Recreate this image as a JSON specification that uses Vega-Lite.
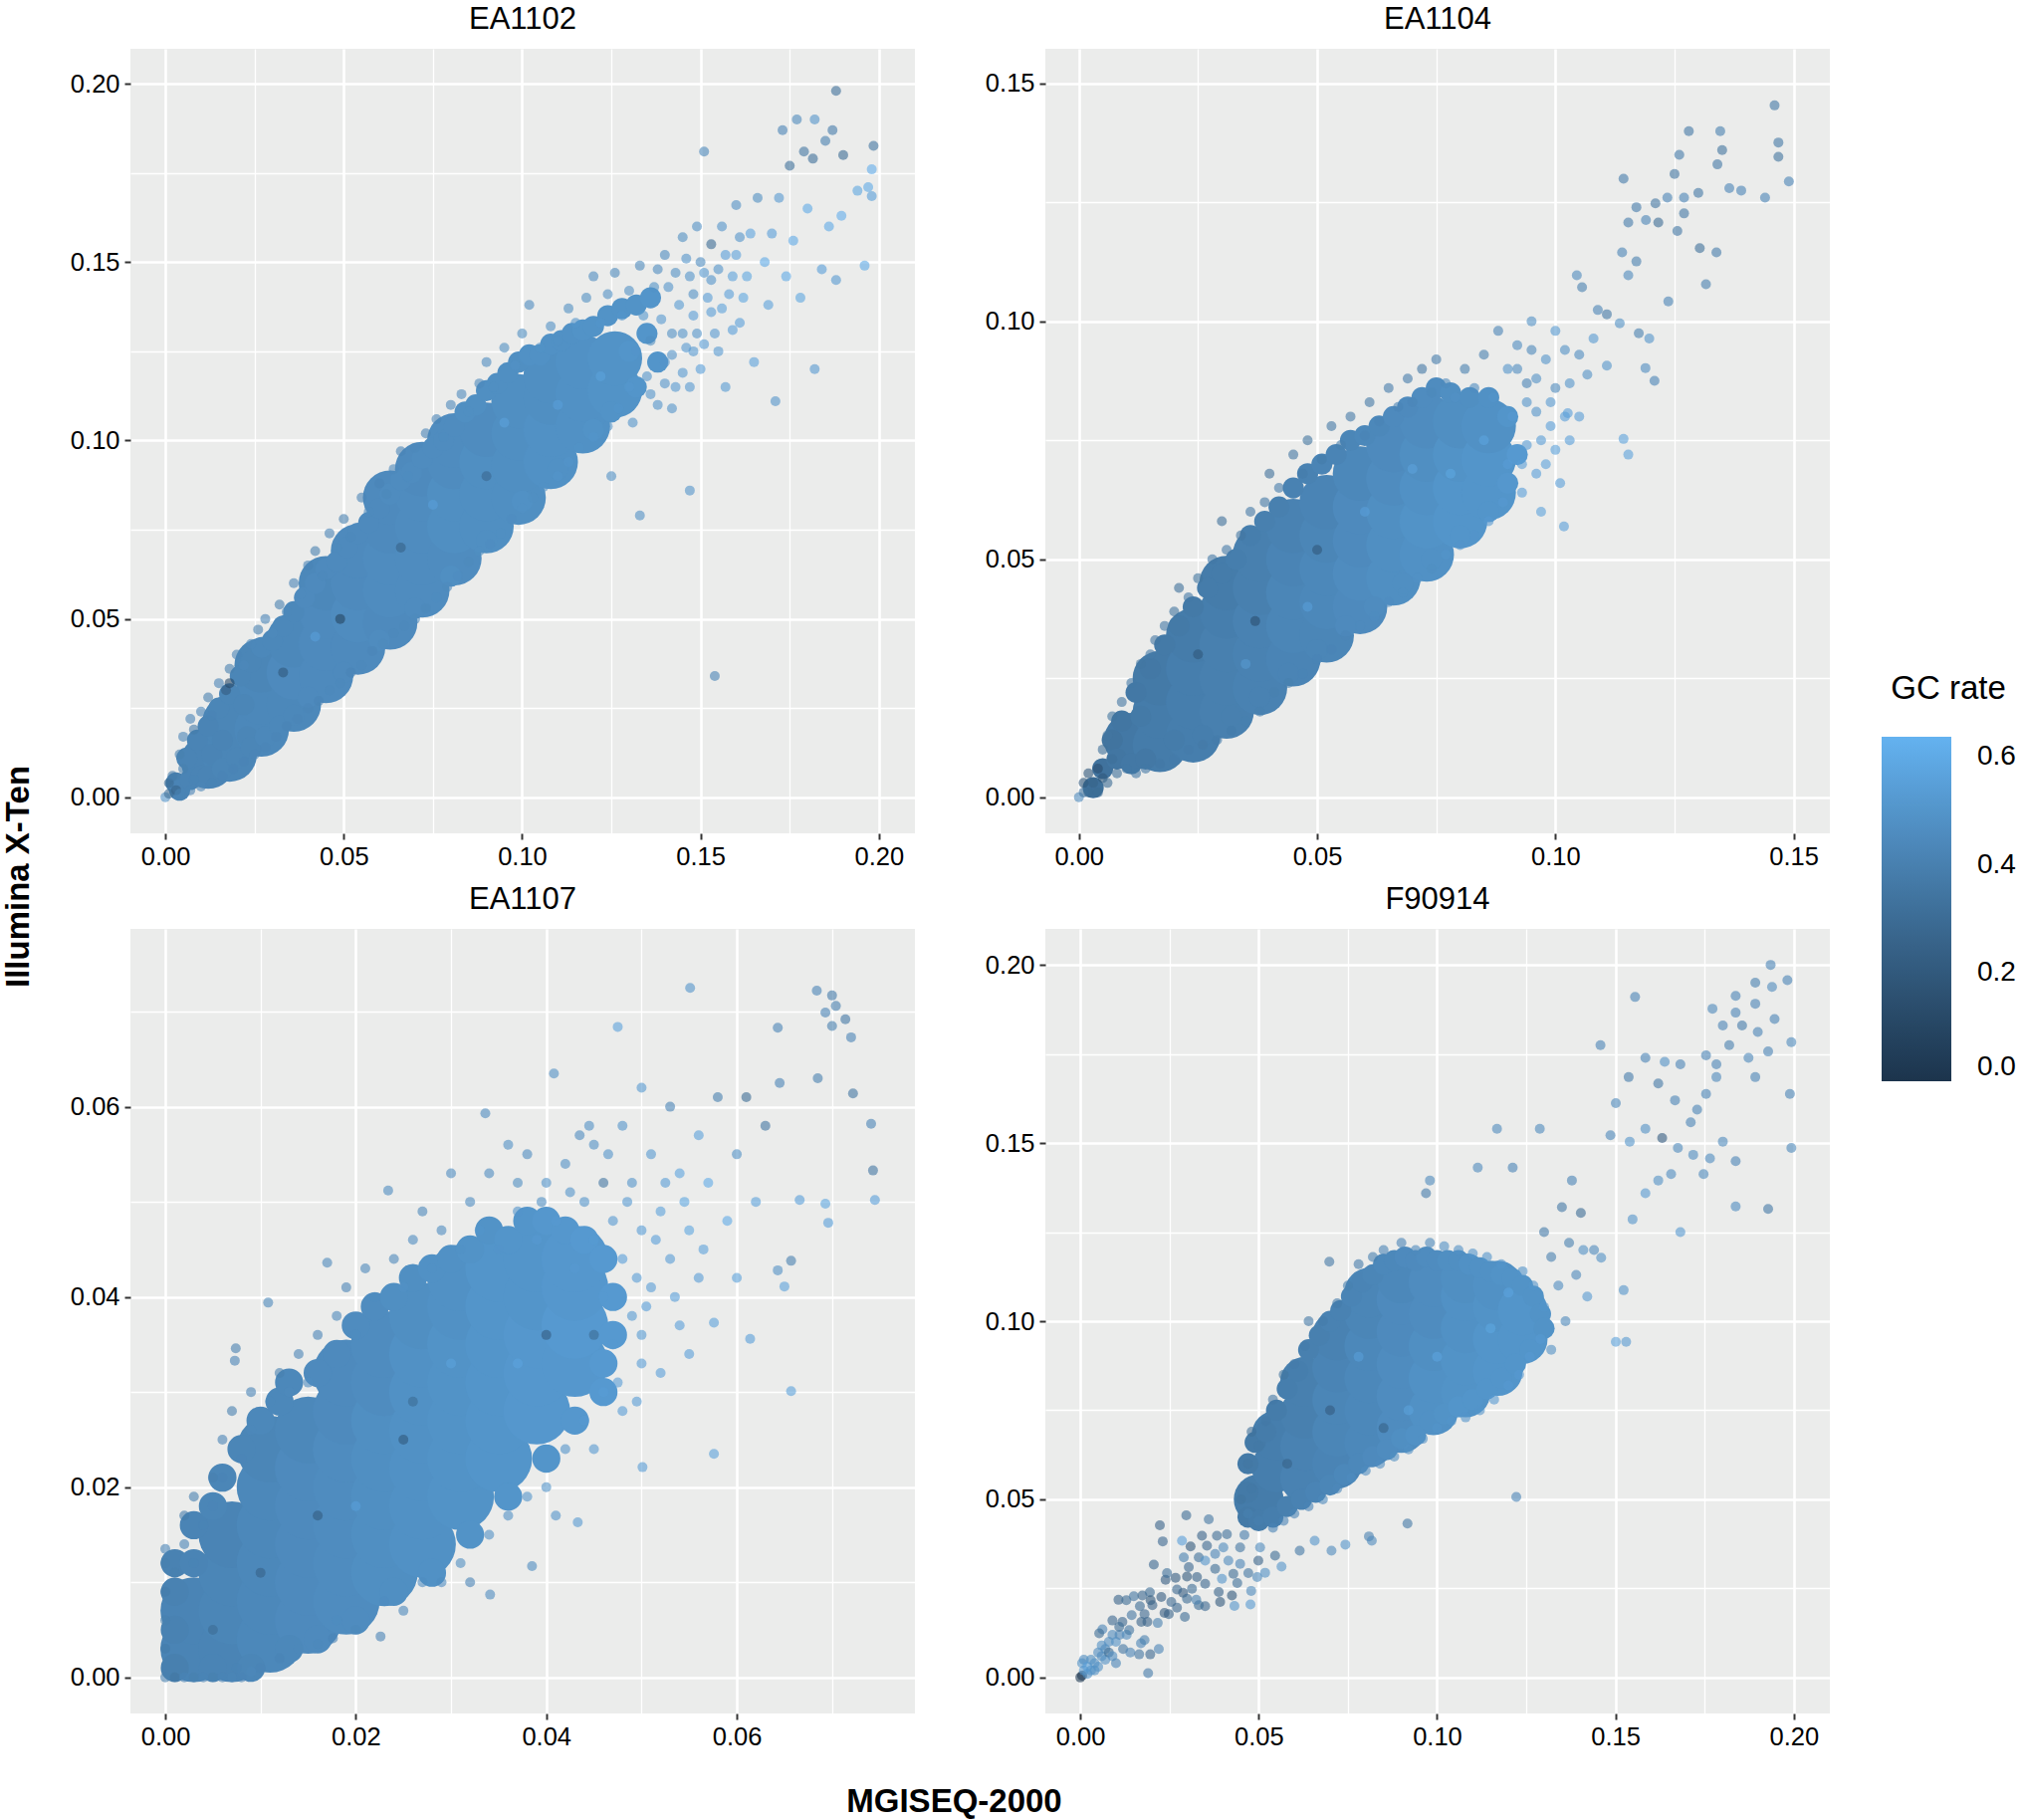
{
"$schema":"https://vega.github.io/schema/vega-lite/v6.json",
"description":"GC rate scatter, MGISEQ-2000 against Illumina X-Ten",
"background":"white",
"padding":{"left":2,"top":4,"right":4,"bottom":2},
"bounds":"flush",
"columns":2,
"spacing":{"row":96,"column":131},
"resolve":{"scale":{"color":"shared"},"legend":{"color":"shared"}},
"config":{
"font":"Liberation Sans",
"view":{"fill":"#EBECEB","stroke":null},
"axis":{"gridColor":"white","domain":false,"tickSize":6,"tickWidth":2,"labelFontSize":25.5,"labelColor":"black","labelPadding":5,"labelFlush":false,"labelOverlap":false,"titleFontSize":33,"titleFontWeight":"bold","titleColor":"black"},
"title":{"fontSize":31,"fontWeight":"normal","color":"black","offset":13}
},
"datasets":{
"core1":[{"x":0.012,"y":0.010,"g":0.42},{"x":0.018,"y":0.012,"g":0.43},{"x":0.018,"y":0.021,"g":0.43},{"x":0.027,"y":0.019,"g":0.44},{"x":0.027,"y":0.028,"g":0.44},{"x":0.027,"y":0.037,"g":0.43},{"x":0.036,"y":0.026,"g":0.44},{"x":0.036,"y":0.035,"g":0.45},{"x":0.036,"y":0.044,"g":0.44},{"x":0.045,"y":0.034,"g":0.45},{"x":0.045,"y":0.043,"g":0.45},{"x":0.045,"y":0.052,"g":0.45},{"x":0.045,"y":0.060,"g":0.44},{"x":0.054,"y":0.042,"g":0.45},{"x":0.054,"y":0.051,"g":0.46},{"x":0.054,"y":0.060,"g":0.45},{"x":0.054,"y":0.069,"g":0.45},{"x":0.063,"y":0.049,"g":0.45},{"x":0.063,"y":0.058,"g":0.46},{"x":0.063,"y":0.067,"g":0.46},{"x":0.063,"y":0.076,"g":0.45},{"x":0.063,"y":0.084,"g":0.45},{"x":0.072,"y":0.058,"g":0.46},{"x":0.072,"y":0.067,"g":0.46},{"x":0.072,"y":0.076,"g":0.46},{"x":0.072,"y":0.085,"g":0.46},{"x":0.072,"y":0.092,"g":0.45},{"x":0.081,"y":0.067,"g":0.46},{"x":0.081,"y":0.076,"g":0.47},{"x":0.081,"y":0.085,"g":0.47},{"x":0.081,"y":0.094,"g":0.46},{"x":0.081,"y":0.100,"g":0.46},{"x":0.090,"y":0.076,"g":0.47},{"x":0.090,"y":0.085,"g":0.47},{"x":0.090,"y":0.094,"g":0.47},{"x":0.090,"y":0.103,"g":0.46},{"x":0.099,"y":0.084,"g":0.47},{"x":0.099,"y":0.093,"g":0.47},{"x":0.099,"y":0.102,"g":0.47},{"x":0.099,"y":0.111,"g":0.47},{"x":0.108,"y":0.094,"g":0.48},{"x":0.108,"y":0.103,"g":0.48},{"x":0.108,"y":0.112,"g":0.47},{"x":0.108,"y":0.118,"g":0.47},{"x":0.117,"y":0.104,"g":0.48},{"x":0.117,"y":0.113,"g":0.48},{"x":0.117,"y":0.122,"g":0.48},{"x":0.126,"y":0.114,"g":0.49},{"x":0.126,"y":0.123,"g":0.49}],
"mid1":[{"x":0.003,"y":0.004,"g":0.4},{"x":0.004,"y":0.002,"g":0.42},{"x":0.006,"y":0.011,"g":0.42},{"x":0.007,"y":0.005,"g":0.42},{"x":0.009,"y":0.016,"g":0.42},{"x":0.01,"y":0.006,"g":0.42},{"x":0.012,"y":0.02,"g":0.42},{"x":0.013,"y":0.012,"g":0.42},{"x":0.015,"y":0.025,"g":0.43},{"x":0.016,"y":0.016,"g":0.42},{"x":0.012,"y":0.006,"g":0.42},{"x":0.016,"y":0.008,"g":0.43},{"x":0.018,"y":0.029,"g":0.43},{"x":0.02,"y":0.011,"g":0.43},{"x":0.021,"y":0.034,"g":0.43},{"x":0.022,"y":0.026,"g":0.43},{"x":0.023,"y":0.017,"g":0.43},{"x":0.024,"y":0.038,"g":0.43},{"x":0.024,"y":0.014,"g":0.43},{"x":0.027,"y":0.042,"g":0.44},{"x":0.028,"y":0.017,"g":0.44},{"x":0.03,"y":0.044,"g":0.44},{"x":0.032,"y":0.02,"g":0.44},{"x":0.033,"y":0.048,"g":0.44},{"x":0.036,"y":0.052,"g":0.44},{"x":0.036,"y":0.023,"g":0.44},{"x":0.039,"y":0.056,"g":0.45},{"x":0.04,"y":0.028,"g":0.45},{"x":0.042,"y":0.06,"g":0.45},{"x":0.045,"y":0.064,"g":0.45},{"x":0.048,"y":0.066,"g":0.45},{"x":0.05,"y":0.035,"g":0.45},{"x":0.051,"y":0.07,"g":0.45},{"x":0.054,"y":0.074,"g":0.45},{"x":0.057,"y":0.077,"g":0.45},{"x":0.06,"y":0.081,"g":0.45},{"x":0.06,"y":0.044,"g":0.46},{"x":0.063,"y":0.085,"g":0.46},{"x":0.066,"y":0.089,"g":0.46},{"x":0.069,"y":0.091,"g":0.46},{"x":0.07,"y":0.053,"g":0.46},{"x":0.072,"y":0.095,"g":0.46},{"x":0.075,"y":0.098,"g":0.46},{"x":0.078,"y":0.1,"g":0.46},{"x":0.08,"y":0.062,"g":0.47},{"x":0.081,"y":0.104,"g":0.46},{"x":0.084,"y":0.108,"g":0.47},{"x":0.087,"y":0.11,"g":0.47},{"x":0.09,"y":0.114,"g":0.47},{"x":0.09,"y":0.072,"g":0.47},{"x":0.093,"y":0.116,"g":0.47},{"x":0.096,"y":0.119,"g":0.47},{"x":0.099,"y":0.122,"g":0.47},{"x":0.1,"y":0.083,"g":0.48},{"x":0.102,"y":0.124,"g":0.48},{"x":0.105,"y":0.124,"g":0.48},{"x":0.108,"y":0.127,"g":0.48},{"x":0.11,"y":0.092,"g":0.48},{"x":0.111,"y":0.128,"g":0.48},{"x":0.114,"y":0.13,"g":0.48},{"x":0.117,"y":0.131,"g":0.49},{"x":0.12,"y":0.132,"g":0.49},{"x":0.12,"y":0.103,"g":0.49},{"x":0.124,"y":0.135,"g":0.49},{"x":0.125,"y":0.108,"g":0.49},{"x":0.128,"y":0.137,"g":0.49},{"x":0.13,"y":0.125,"g":0.5},{"x":0.132,"y":0.138,"g":0.49},{"x":0.132,"y":0.115,"g":0.5},{"x":0.135,"y":0.13,"g":0.5},{"x":0.136,"y":0.14,"g":0.5},{"x":0.138,"y":0.122,"g":0.5}],
"fine1":[{"x":0,"y":0,"g":0.5},{"x":0.001,"y":0.001,"g":0.3},{"x":0.001,"y":0.004,"g":0.3},{"x":0.002,"y":0.006,"g":0.38},{"x":0.003,"y":0.002,"g":0.25},{"x":0.004,"y":0.012,"g":0.4},{"x":0.004,"y":0.001,"g":0.42},{"x":0.005,"y":0.017,"g":0.42},{"x":0.005,"y":0.008,"g":0.4},{"x":0.007,"y":0.022,"g":0.42},{"x":0.007,"y":0.002,"g":0.42},{"x":0.008,"y":0.019,"g":0.38},{"x":0.008,"y":0.005,"g":0.42},{"x":0.01,"y":0.024,"g":0.42},{"x":0.01,"y":0.003,"g":0.43},{"x":0.012,"y":0.028,"g":0.4},{"x":0.013,"y":0.023,"g":0.42},{"x":0.013,"y":0.004,"g":0.42},{"x":0.015,"y":0.032,"g":0.42},{"x":0.016,"y":0.006,"g":0.42},{"x":0.017,"y":0.03,"g":0.22},{"x":0.018,"y":0.036,"g":0.4},{"x":0.019,"y":0.008,"g":0.42},{"x":0.02,"y":0.04,"g":0.42},{"x":0.022,"y":0.037,"g":0.44},{"x":0.022,"y":0.01,"g":0.42},{"x":0.024,"y":0.043,"g":0.44},{"x":0.025,"y":0.012,"g":0.43},{"x":0.026,"y":0.047,"g":0.4},{"x":0.028,"y":0.05,"g":0.42},{"x":0.028,"y":0.014,"g":0.43},{"x":0.03,"y":0.046,"g":0.45},{"x":0.031,"y":0.017,"g":0.43},{"x":0.032,"y":0.054,"g":0.4},{"x":0.034,"y":0.052,"g":0.44},{"x":0.034,"y":0.02,"g":0.42},{"x":0.036,"y":0.06,"g":0.42},{"x":0.037,"y":0.022,"g":0.43},{"x":0.038,"y":0.057,"g":0.45},{"x":0.04,"y":0.065,"g":0.42},{"x":0.04,"y":0.025,"g":0.43},{"x":0.042,"y":0.069,"g":0.4},{"x":0.043,"y":0.027,"g":0.42},{"x":0.044,"y":0.062,"g":0.44},{"x":0.046,"y":0.074,"g":0.42},{"x":0.046,"y":0.03,"g":0.44},{"x":0.048,"y":0.07,"g":0.45},{"x":0.049,"y":0.032,"g":0.44},{"x":0.05,"y":0.078,"g":0.4},{"x":0.052,"y":0.073,"g":0.44},{"x":0.052,"y":0.035,"g":0.42},{"x":0.055,"y":0.084,"g":0.42},{"x":0.055,"y":0.037,"g":0.44},{"x":0.057,"y":0.08,"g":0.45},{"x":0.058,"y":0.041,"g":0.43},{"x":0.06,"y":0.088,"g":0.42},{"x":0.061,"y":0.043,"g":0.45},{"x":0.062,"y":0.085,"g":0.44},{"x":0.064,"y":0.092,"g":0.44},{"x":0.064,"y":0.046,"g":0.44},{"x":0.066,"y":0.097,"g":0.42},{"x":0.067,"y":0.048,"g":0.44},{"x":0.068,"y":0.09,"g":0.46},{"x":0.07,"y":0.098,"g":0.44},{"x":0.07,"y":0.05,"g":0.45},{"x":0.073,"y":0.102,"g":0.42},{"x":0.073,"y":0.053,"g":0.44},{"x":0.076,"y":0.106,"g":0.42},{"x":0.076,"y":0.056,"g":0.46},{"x":0.078,"y":0.101,"g":0.46},{"x":0.079,"y":0.059,"g":0.45},{"x":0.08,"y":0.11,"g":0.44},{"x":0.082,"y":0.062,"g":0.46},{"x":0.083,"y":0.113,"g":0.45},{"x":0.085,"y":0.108,"g":0.47},{"x":0.085,"y":0.066,"g":0.45},{"x":0.088,"y":0.116,"g":0.44},{"x":0.088,"y":0.069,"g":0.47},{"x":0.09,"y":0.122,"g":0.46},{"x":0.091,"y":0.071,"g":0.46},{"x":0.092,"y":0.115,"g":0.47},{"x":0.094,"y":0.074,"g":0.47},{"x":0.095,"y":0.126,"g":0.47},{"x":0.097,"y":0.078,"g":0.46},{"x":0.098,"y":0.121,"g":0.48},{"x":0.1,"y":0.13,"g":0.47},{"x":0.1,"y":0.081,"g":0.48},{"x":0.102,"y":0.138,"g":0.46},{"x":0.103,"y":0.084,"g":0.47},{"x":0.105,"y":0.126,"g":0.49},{"x":0.106,"y":0.087,"g":0.48},{"x":0.108,"y":0.132,"g":0.48},{"x":0.11,"y":0.128,"g":0.48},{"x":0.11,"y":0.09,"g":0.5},{"x":0.113,"y":0.137,"g":0.47},{"x":0.113,"y":0.094,"g":0.5},{"x":0.115,"y":0.133,"g":0.5},{"x":0.116,"y":0.098,"g":0.49},{"x":0.118,"y":0.14,"g":0.47},{"x":0.12,"y":0.101,"g":0.5},{"x":0.12,"y":0.146,"g":0.46},{"x":0.122,"y":0.133,"g":0.5},{"x":0.124,"y":0.104,"g":0.48},{"x":0.124,"y":0.141,"g":0.48},{"x":0.126,"y":0.147,"g":0.45},{"x":0.127,"y":0.109,"g":0.5},{"x":0.128,"y":0.135,"g":0.5},{"x":0.13,"y":0.142,"g":0.48},{"x":0.13,"y":0.115,"g":0.51},{"x":0.131,"y":0.105,"g":0.5},{"x":0.132,"y":0.125,"g":0.5},{"x":0.133,"y":0.149,"g":0.45},{"x":0.134,"y":0.135,"g":0.51},{"x":0.135,"y":0.118,"g":0.5},{"x":0.136,"y":0.128,"g":0.47},{"x":0.137,"y":0.143,"g":0.49},{"x":0.138,"y":0.11,"g":0.5},{"x":0.139,"y":0.134,"g":0.52},{"x":0.14,"y":0.122,"g":0.5},{"x":0.14,"y":0.152,"g":0.46},{"x":0.141,"y":0.143,"g":0.5},{"x":0.142,"y":0.13,"g":0.48},{"x":0.143,"y":0.115,"g":0.52},{"x":0.144,"y":0.138,"g":0.53},{"x":0.145,"y":0.157,"g":0.47},{"x":0.146,"y":0.126,"g":0.52},{"x":0.147,"y":0.146,"g":0.5},{"x":0.148,"y":0.135,"g":0.54},{"x":0.149,"y":0.16,"g":0.48},{"x":0.15,"y":0.12,"g":0.55},{"x":0.15,"y":0.15,"g":0.46},{"x":0.151,"y":0.181,"g":0.44},{"x":0.152,"y":0.14,"g":0.54},{"x":0.153,"y":0.155,"g":0.3},{"x":0.154,"y":0.034,"g":0.42},{"x":0.154,"y":0.13,"g":0.52},{"x":0.155,"y":0.148,"g":0.5},{"x":0.156,"y":0.16,"g":0.5},{"x":0.157,"y":0.115,"g":0.53},{"x":0.158,"y":0.141,"g":0.55},{"x":0.16,"y":0.152,"g":0.56},{"x":0.16,"y":0.166,"g":0.48},{"x":0.161,"y":0.133,"g":0.55},{"x":0.163,"y":0.146,"g":0.58},{"x":0.164,"y":0.158,"g":0.57},{"x":0.165,"y":0.122,"g":0.56},{"x":0.166,"y":0.168,"g":0.47},{"x":0.168,"y":0.15,"g":0.6},{"x":0.169,"y":0.138,"g":0.56},{"x":0.17,"y":0.158,"g":0.55},{"x":0.171,"y":0.111,"g":0.5},{"x":0.172,"y":0.168,"g":0.52},{"x":0.173,"y":0.187,"g":0.42},{"x":0.174,"y":0.146,"g":0.6},{"x":0.175,"y":0.177,"g":0.32},{"x":0.176,"y":0.156,"g":0.6},{"x":0.177,"y":0.19,"g":0.45},{"x":0.178,"y":0.14,"g":0.58},{"x":0.179,"y":0.181,"g":0.35},{"x":0.18,"y":0.165,"g":0.6},{"x":0.1815,"y":0.179,"g":0.32},{"x":0.182,"y":0.19,"g":0.5},{"x":0.182,"y":0.12,"g":0.52},{"x":0.184,"y":0.148,"g":0.55},{"x":0.185,"y":0.184,"g":0.4},{"x":0.186,"y":0.16,"g":0.6},{"x":0.187,"y":0.187,"g":0.38},{"x":0.188,"y":0.198,"g":0.32},{"x":0.188,"y":0.145,"g":0.52},{"x":0.19,"y":0.18,"g":0.3},{"x":0.1895,"y":0.163,"g":0.62},{"x":0.194,"y":0.17,"g":0.58},{"x":0.196,"y":0.149,"g":0.6},{"x":0.197,"y":0.171,"g":0.6},{"x":0.198,"y":0.176,"g":0.62},{"x":0.198,"y":0.1685,"g":0.55},{"x":0.1985,"y":0.1826,"g":0.35},{"x":0.147,"y":0.086,"g":0.5},{"x":0.133,"y":0.079,"g":0.48},{"x":0.125,"y":0.09,"g":0.48},{"x":0.049,"y":0.05,"g":0.1},{"x":0.033,"y":0.035,"g":0.2},{"x":0.018,"y":0.032,"g":0.12},{"x":0.066,"y":0.07,"g":0.25},{"x":0.09,"y":0.09,"g":0.28},{"x":0.075,"y":0.082,"g":0.55},{"x":0.042,"y":0.045,"g":0.55},{"x":0.095,"y":0.105,"g":0.56},{"x":0.11,"y":0.11,"g":0.55},{"x":0.122,"y":0.118,"g":0.56},{"x":0.142,"y":0.124,"g":0.5},{"x":0.145,"y":0.13,"g":0.5},{"x":0.145,"y":0.119,"g":0.52},{"x":0.148,"y":0.125,"g":0.52},{"x":0.148,"y":0.141,"g":0.48},{"x":0.149,"y":0.13,"g":0.5},{"x":0.151,"y":0.147,"g":0.52},{"x":0.151,"y":0.127,"g":0.54},{"x":0.153,"y":0.136,"g":0.54},{"x":0.153,"y":0.145,"g":0.5},{"x":0.155,"y":0.125,"g":0.52},{"x":0.156,"y":0.137,"g":0.56},{"x":0.157,"y":0.152,"g":0.55},{"x":0.159,"y":0.131,"g":0.55},{"x":0.159,"y":0.146,"g":0.56},{"x":0.161,"y":0.157,"g":0.5},{"x":0.162,"y":0.14,"g":0.58},{"x":0.143,"y":0.147,"g":0.48},{"x":0.138,"y":0.148,"g":0.46},{"x":0.146,"y":0.151,"g":0.5},{"x":0.136,"y":0.113,"g":0.5},{"x":0.14,"y":0.116,"g":0.5},{"x":0.147,"y":0.115,"g":0.52},{"x":0.142,"y":0.109,"g":0.5}],
"core2":[{"x":0.011,"y":0.012,"g":0.36},{"x":0.017,"y":0.011,"g":0.38},{"x":0.017,"y":0.018,"g":0.38},{"x":0.017,"y":0.025,"g":0.37},{"x":0.024,"y":0.013,"g":0.39},{"x":0.024,"y":0.02,"g":0.39},{"x":0.024,"y":0.027,"g":0.39},{"x":0.024,"y":0.034,"g":0.38},{"x":0.031,"y":0.018,"g":0.4},{"x":0.031,"y":0.025,"g":0.4},{"x":0.031,"y":0.032,"g":0.4},{"x":0.031,"y":0.039,"g":0.39},{"x":0.031,"y":0.045,"g":0.38},{"x":0.038,"y":0.023,"g":0.41},{"x":0.038,"y":0.03,"g":0.41},{"x":0.038,"y":0.037,"g":0.41},{"x":0.038,"y":0.044,"g":0.4},{"x":0.038,"y":0.051,"g":0.4},{"x":0.045,"y":0.029,"g":0.42},{"x":0.045,"y":0.036,"g":0.43},{"x":0.045,"y":0.043,"g":0.43},{"x":0.045,"y":0.05,"g":0.42},{"x":0.045,"y":0.057,"g":0.41},{"x":0.052,"y":0.034,"g":0.43},{"x":0.052,"y":0.041,"g":0.44},{"x":0.052,"y":0.048,"g":0.44},{"x":0.052,"y":0.055,"g":0.43},{"x":0.052,"y":0.062,"g":0.42},{"x":0.059,"y":0.04,"g":0.45},{"x":0.059,"y":0.047,"g":0.46},{"x":0.059,"y":0.054,"g":0.45},{"x":0.059,"y":0.061,"g":0.45},{"x":0.059,"y":0.068,"g":0.44},{"x":0.066,"y":0.046,"g":0.47},{"x":0.066,"y":0.053,"g":0.47},{"x":0.066,"y":0.06,"g":0.47},{"x":0.066,"y":0.067,"g":0.46},{"x":0.066,"y":0.074,"g":0.45},{"x":0.073,"y":0.051,"g":0.48},{"x":0.073,"y":0.058,"g":0.49},{"x":0.073,"y":0.065,"g":0.48},{"x":0.073,"y":0.072,"g":0.47},{"x":0.073,"y":0.079,"g":0.46},{"x":0.08,"y":0.058,"g":0.5},{"x":0.08,"y":0.065,"g":0.5},{"x":0.08,"y":0.072,"g":0.49},{"x":0.08,"y":0.079,"g":0.47},{"x":0.086,"y":0.064,"g":0.5},{"x":0.086,"y":0.071,"g":0.5},{"x":0.086,"y":0.078,"g":0.48}],
"mid2":[{"x":0.003,"y":0.002,"g":0.32},{"x":0.005,"y":0.006,"g":0.33},{"x":0.007,"y":0.012,"g":0.34},{"x":0.008,"y":0.008,"g":0.35},{"x":0.009,"y":0.016,"g":0.35},{"x":0.011,"y":0.007,"g":0.36},{"x":0.012,"y":0.022,"g":0.36},{"x":0.013,"y":0.017,"g":0.37},{"x":0.014,"y":0.008,"g":0.36},{"x":0.015,"y":0.027,"g":0.36},{"x":0.018,"y":0.032,"g":0.37},{"x":0.02,"y":0.012,"g":0.38},{"x":0.021,"y":0.036,"g":0.37},{"x":0.024,"y":0.04,"g":0.37},{"x":0.026,"y":0.013,"g":0.39},{"x":0.027,"y":0.044,"g":0.38},{"x":0.03,"y":0.047,"g":0.38},{"x":0.032,"y":0.017,"g":0.4},{"x":0.033,"y":0.05,"g":0.39},{"x":0.036,"y":0.055,"g":0.39},{"x":0.038,"y":0.021,"g":0.41},{"x":0.039,"y":0.058,"g":0.4},{"x":0.042,"y":0.061,"g":0.4},{"x":0.044,"y":0.026,"g":0.42},{"x":0.045,"y":0.065,"g":0.41},{"x":0.048,"y":0.068,"g":0.41},{"x":0.05,"y":0.031,"g":0.43},{"x":0.051,"y":0.07,"g":0.42},{"x":0.054,"y":0.072,"g":0.42},{"x":0.056,"y":0.036,"g":0.45},{"x":0.057,"y":0.075,"g":0.43},{"x":0.06,"y":0.076,"g":0.44},{"x":0.062,"y":0.04,"g":0.46},{"x":0.063,"y":0.078,"g":0.44},{"x":0.066,"y":0.08,"g":0.45},{"x":0.068,"y":0.045,"g":0.47},{"x":0.069,"y":0.082,"g":0.45},{"x":0.072,"y":0.084,"g":0.46},{"x":0.074,"y":0.05,"g":0.48},{"x":0.075,"y":0.086,"g":0.46},{"x":0.078,"y":0.085,"g":0.47},{"x":0.08,"y":0.055,"g":0.5},{"x":0.082,"y":0.084,"g":0.47},{"x":0.086,"y":0.06,"g":0.5},{"x":0.086,"y":0.084,"g":0.48},{"x":0.09,"y":0.066,"g":0.51},{"x":0.09,"y":0.08,"g":0.5},{"x":0.092,"y":0.072,"g":0.52}],
"fine2":[{"x":0,"y":0,"g":0.45},{"x":0.001,"y":0.001,"g":0.35},{"x":0.001,"y":0.003,"g":0.2},{"x":0.002,"y":0.005,"g":0.2},{"x":0.002,"y":0.001,"g":0.3},{"x":0.003,"y":0.003,"g":0.25},{"x":0.004,"y":0.006,"g":0.15},{"x":0.004,"y":0.001,"g":0.3},{"x":0.005,"y":0.004,"g":0.2},{"x":0.005,"y":0.01,"g":0.32},{"x":0.006,"y":0.003,"g":0.3},{"x":0.006,"y":0.013,"g":0.35},{"x":0.007,"y":0.008,"g":0.32},{"x":0.007,"y":0.017,"g":0.34},{"x":0.008,"y":0.005,"g":0.32},{"x":0.009,"y":0.02,"g":0.35},{"x":0.01,"y":0.006,"g":0.36},{"x":0.011,"y":0.024,"g":0.36},{"x":0.012,"y":0.005,"g":0.36},{"x":0.013,"y":0.028,"g":0.35},{"x":0.014,"y":0.006,"g":0.36},{"x":0.015,"y":0.03,"g":0.37},{"x":0.016,"y":0.033,"g":0.35},{"x":0.017,"y":0.007,"g":0.36},{"x":0.018,"y":0.036,"g":0.36},{"x":0.02,"y":0.008,"g":0.38},{"x":0.02,"y":0.039,"g":0.34},{"x":0.021,"y":0.044,"g":0.32},{"x":0.023,"y":0.01,"g":0.38},{"x":0.023,"y":0.042,"g":0.36},{"x":0.025,"y":0.046,"g":0.34},{"x":0.026,"y":0.011,"g":0.37},{"x":0.028,"y":0.05,"g":0.36},{"x":0.029,"y":0.012,"g":0.38},{"x":0.03,"y":0.058,"g":0.32},{"x":0.031,"y":0.052,"g":0.37},{"x":0.032,"y":0.014,"g":0.38},{"x":0.034,"y":0.055,"g":0.35},{"x":0.035,"y":0.016,"g":0.4},{"x":0.036,"y":0.06,"g":0.36},{"x":0.038,"y":0.018,"g":0.4},{"x":0.039,"y":0.062,"g":0.36},{"x":0.04,"y":0.068,"g":0.32},{"x":0.041,"y":0.022,"g":0.4},{"x":0.042,"y":0.065,"g":0.38},{"x":0.044,"y":0.024,"g":0.4},{"x":0.045,"y":0.072,"g":0.35},{"x":0.047,"y":0.068,"g":0.38},{"x":0.047,"y":0.026,"g":0.42},{"x":0.048,"y":0.075,"g":0.34},{"x":0.05,"y":0.029,"g":0.42},{"x":0.051,"y":0.071,"g":0.38},{"x":0.053,"y":0.078,"g":0.36},{"x":0.053,"y":0.031,"g":0.42},{"x":0.055,"y":0.074,"g":0.4},{"x":0.056,"y":0.034,"g":0.43},{"x":0.057,"y":0.08,"g":0.37},{"x":0.059,"y":0.036,"g":0.45},{"x":0.06,"y":0.076,"g":0.42},{"x":0.061,"y":0.083,"g":0.36},{"x":0.062,"y":0.038,"g":0.46},{"x":0.063,"y":0.079,"g":0.42},{"x":0.065,"y":0.041,"g":0.46},{"x":0.065,"y":0.086,"g":0.38},{"x":0.067,"y":0.082,"g":0.42},{"x":0.068,"y":0.043,"g":0.47},{"x":0.069,"y":0.088,"g":0.38},{"x":0.07,"y":0.083,"g":0.43},{"x":0.071,"y":0.046,"g":0.48},{"x":0.072,"y":0.09,"g":0.36},{"x":0.074,"y":0.085,"g":0.44},{"x":0.074,"y":0.048,"g":0.47},{"x":0.075,"y":0.092,"g":0.38},{"x":0.077,"y":0.087,"g":0.45},{"x":0.077,"y":0.051,"g":0.5},{"x":0.079,"y":0.084,"g":0.48},{"x":0.08,"y":0.053,"g":0.5},{"x":0.081,"y":0.09,"g":0.4},{"x":0.083,"y":0.086,"g":0.46},{"x":0.083,"y":0.055,"g":0.5},{"x":0.085,"y":0.093,"g":0.4},{"x":0.086,"y":0.058,"g":0.52},{"x":0.087,"y":0.084,"g":0.5},{"x":0.088,"y":0.098,"g":0.42},{"x":0.089,"y":0.062,"g":0.52},{"x":0.09,"y":0.09,"g":0.5},{"x":0.09,"y":0.07,"g":0.54},{"x":0.091,"y":0.08,"g":0.52},{"x":0.092,"y":0.095,"g":0.46},{"x":0.093,"y":0.064,"g":0.55},{"x":0.094,"y":0.087,"g":0.42},{"x":0.094,"y":0.074,"g":0.54},{"x":0.095,"y":0.1,"g":0.48},{"x":0.096,"y":0.081,"g":0.5},{"x":0.097,"y":0.06,"g":0.56},{"x":0.098,"y":0.092,"g":0.5},{"x":0.098,"y":0.07,"g":0.56},{"x":0.099,"y":0.078,"g":0.55},{"x":0.1,"y":0.086,"g":0.45},{"x":0.1,"y":0.098,"g":0.52},{"x":0.101,"y":0.066,"g":0.55},{"x":0.102,"y":0.08,"g":0.55},{"x":0.1018,"y":0.0569,"g":0.55},{"x":0.1026,"y":0.0807,"g":0.55},{"x":0.1045,"y":0.1097,"g":0.45},{"x":0.1056,"y":0.1072,"g":0.4},{"x":0.1067,"y":0.0888,"g":0.48},{"x":0.108,"y":0.0964,"g":0.52},{"x":0.1089,"y":0.1024,"g":0.42},{"x":0.1108,"y":0.1015,"g":0.36},{"x":0.1108,"y":0.0907,"g":0.5},{"x":0.1135,"y":0.0996,"g":0.48},{"x":0.114,"y":0.1145,"g":0.42},{"x":0.1143,"y":0.130,"g":0.38},{"x":0.1143,"y":0.0753,"g":0.56},{"x":0.1153,"y":0.1208,"g":0.38},{"x":0.1153,"y":0.1097,"g":0.45},{"x":0.1153,"y":0.072,"g":0.56},{"x":0.117,"y":0.124,"g":0.38},{"x":0.117,"y":0.1126,"g":0.4},{"x":0.1175,"y":0.0975,"g":0.4},{"x":0.119,"y":0.1213,"g":0.42},{"x":0.1189,"y":0.0902,"g":0.46},{"x":0.1197,"y":0.0964,"g":0.5},{"x":0.1208,"y":0.0875,"g":0.42},{"x":0.121,"y":0.1248,"g":0.35},{"x":0.1216,"y":0.1208,"g":0.3},{"x":0.1235,"y":0.126,"g":0.42},{"x":0.1237,"y":0.1042,"g":0.42},{"x":0.125,"y":0.131,"g":0.35},{"x":0.1256,"y":0.119,"g":0.36},{"x":0.126,"y":0.135,"g":0.38},{"x":0.127,"y":0.126,"g":0.42},{"x":0.127,"y":0.1227,"g":0.36},{"x":0.128,"y":0.14,"g":0.36},{"x":0.13,"y":0.127,"g":0.36},{"x":0.1303,"y":0.1154,"g":0.32},{"x":0.1316,"y":0.1078,"g":0.4},{"x":0.134,"y":0.133,"g":0.36},{"x":0.1338,"y":0.1145,"g":0.38},{"x":0.1346,"y":0.14,"g":0.4},{"x":0.135,"y":0.136,"g":0.34},{"x":0.1365,"y":0.128,"g":0.42},{"x":0.139,"y":0.1275,"g":0.42},{"x":0.144,"y":0.126,"g":0.42},{"x":0.146,"y":0.1454,"g":0.36},{"x":0.1468,"y":0.1376,"g":0.36},{"x":0.1468,"y":0.1346,"g":0.34},{"x":0.149,"y":0.1294,"g":0.42},{"x":0.037,"y":0.037,"g":0.15},{"x":0.025,"y":0.03,"g":0.2},{"x":0.05,"y":0.052,"g":0.2},{"x":0.07,"y":0.069,"g":0.56},{"x":0.06,"y":0.06,"g":0.55},{"x":0.078,"y":0.068,"g":0.58},{"x":0.085,"y":0.075,"g":0.57},{"x":0.048,"y":0.04,"g":0.55},{"x":0.035,"y":0.028,"g":0.52},{"x":0.094,"y":0.083,"g":0.5},{"x":0.096,"y":0.088,"g":0.48},{"x":0.097,"y":0.075,"g":0.54},{"x":0.096,"y":0.068,"g":0.55},{"x":0.099,"y":0.083,"g":0.52},{"x":0.092,"y":0.09,"g":0.46},{"x":0.095,"y":0.094,"g":0.44},{"x":0.1,"y":0.073,"g":0.56},{"x":0.103,"y":0.075,"g":0.55},{"x":0.103,"y":0.087,"g":0.5},{"x":0.105,"y":0.08,"g":0.54},{"x":0.105,"y":0.093,"g":0.46},{"x":0.093,"y":0.07,"g":0.54},{"x":0.102,"y":0.094,"g":0.48}],
"core3":[{"x":0.003,"y":0.003,"g":0.42},{"x":0.003,"y":0.007,"g":0.42},{"x":0.007,"y":0.003,"g":0.42},{"x":0.007,"y":0.007,"g":0.43},{"x":0.007,"y":0.011,"g":0.43},{"x":0.007,"y":0.015,"g":0.42},{"x":0.011,"y":0.004,"g":0.44},{"x":0.011,"y":0.008,"g":0.44},{"x":0.011,"y":0.012,"g":0.44},{"x":0.011,"y":0.016,"g":0.44},{"x":0.011,"y":0.02,"g":0.44},{"x":0.011,"y":0.024,"g":0.43},{"x":0.015,"y":0.006,"g":0.45},{"x":0.015,"y":0.01,"g":0.45},{"x":0.015,"y":0.014,"g":0.45},{"x":0.015,"y":0.018,"g":0.45},{"x":0.015,"y":0.022,"g":0.45},{"x":0.015,"y":0.026,"g":0.44},{"x":0.019,"y":0.008,"g":0.46},{"x":0.019,"y":0.012,"g":0.46},{"x":0.019,"y":0.016,"g":0.46},{"x":0.019,"y":0.02,"g":0.46},{"x":0.019,"y":0.024,"g":0.46},{"x":0.019,"y":0.028,"g":0.45},{"x":0.019,"y":0.032,"g":0.45},{"x":0.023,"y":0.011,"g":0.47},{"x":0.023,"y":0.015,"g":0.47},{"x":0.023,"y":0.019,"g":0.47},{"x":0.023,"y":0.023,"g":0.47},{"x":0.023,"y":0.027,"g":0.47},{"x":0.023,"y":0.031,"g":0.46},{"x":0.023,"y":0.035,"g":0.46},{"x":0.027,"y":0.014,"g":0.48},{"x":0.027,"y":0.018,"g":0.48},{"x":0.027,"y":0.022,"g":0.48},{"x":0.027,"y":0.026,"g":0.48},{"x":0.027,"y":0.03,"g":0.48},{"x":0.027,"y":0.034,"g":0.48},{"x":0.027,"y":0.038,"g":0.47},{"x":0.031,"y":0.019,"g":0.49},{"x":0.031,"y":0.023,"g":0.49},{"x":0.031,"y":0.027,"g":0.49},{"x":0.031,"y":0.031,"g":0.49},{"x":0.031,"y":0.035,"g":0.49},{"x":0.031,"y":0.039,"g":0.48},{"x":0.031,"y":0.042,"g":0.48},{"x":0.035,"y":0.023,"g":0.5},{"x":0.035,"y":0.027,"g":0.5},{"x":0.035,"y":0.031,"g":0.5},{"x":0.035,"y":0.035,"g":0.5},{"x":0.035,"y":0.039,"g":0.5},{"x":0.035,"y":0.043,"g":0.5},{"x":0.039,"y":0.028,"g":0.51},{"x":0.039,"y":0.032,"g":0.51},{"x":0.039,"y":0.036,"g":0.51},{"x":0.039,"y":0.04,"g":0.5},{"x":0.039,"y":0.044,"g":0.5},{"x":0.043,"y":0.033,"g":0.51},{"x":0.043,"y":0.037,"g":0.52},{"x":0.043,"y":0.041,"g":0.51},{"x":0.043,"y":0.044,"g":0.51}],
"mid3":[{"x":0.001,"y":0.001,"g":0.4},{"x":0.001,"y":0.005,"g":0.41},{"x":0.001,"y":0.009,"g":0.41},{"x":0.001,"y":0.012,"g":0.41},{"x":0.003,"y":0.012,"g":0.42},{"x":0.003,"y":0.016,"g":0.42},{"x":0.005,"y":0.001,"g":0.42},{"x":0.005,"y":0.018,"g":0.43},{"x":0.006,"y":0.021,"g":0.43},{"x":0.008,"y":0.024,"g":0.43},{"x":0.009,"y":0.001,"g":0.43},{"x":0.01,"y":0.027,"g":0.44},{"x":0.012,"y":0.029,"g":0.44},{"x":0.013,"y":0.031,"g":0.44},{"x":0.013,"y":0.003,"g":0.44},{"x":0.016,"y":0.032,"g":0.45},{"x":0.016,"y":0.004,"g":0.45},{"x":0.018,"y":0.034,"g":0.45},{"x":0.02,"y":0.037,"g":0.46},{"x":0.02,"y":0.006,"g":0.46},{"x":0.022,"y":0.039,"g":0.46},{"x":0.024,"y":0.04,"g":0.47},{"x":0.024,"y":0.009,"g":0.47},{"x":0.026,"y":0.042,"g":0.47},{"x":0.028,"y":0.043,"g":0.48},{"x":0.028,"y":0.011,"g":0.48},{"x":0.03,"y":0.044,"g":0.48},{"x":0.032,"y":0.045,"g":0.49},{"x":0.032,"y":0.015,"g":0.49},{"x":0.034,"y":0.047,"g":0.49},{"x":0.036,"y":0.046,"g":0.5},{"x":0.036,"y":0.019,"g":0.5},{"x":0.038,"y":0.048,"g":0.5},{"x":0.04,"y":0.048,"g":0.51},{"x":0.04,"y":0.023,"g":0.5},{"x":0.042,"y":0.047,"g":0.51},{"x":0.043,"y":0.027,"g":0.51},{"x":0.044,"y":0.046,"g":0.52},{"x":0.046,"y":0.044,"g":0.52},{"x":0.046,"y":0.03,"g":0.52},{"x":0.046,"y":0.033,"g":0.52},{"x":0.047,"y":0.04,"g":0.52},{"x":0.047,"y":0.036,"g":0.52}],
"fine3":[{"x":0,"y":0,"g":0.4},{"x":0,"y":0.003,"g":0.38},{"x":0,"y":0.006,"g":0.4},{"x":0,"y":0.009,"g":0.38},{"x":0,"y":0.012,"g":0.4},{"x":0,"y":0.0135,"g":0.42},{"x":0.001,"y":0,"g":0.35},{"x":0.002,"y":0,"g":0.42},{"x":0.003,"y":0,"g":0.4},{"x":0.004,"y":0,"g":0.42},{"x":0.005,"y":0,"g":0.4},{"x":0.006,"y":0,"g":0.42},{"x":0.007,"y":0,"g":0.43},{"x":0.008,"y":0,"g":0.42},{"x":0.009,"y":0.0006,"g":0.44},{"x":0.001,"y":0.011,"g":0.4},{"x":0.002,"y":0.014,"g":0.42},{"x":0.002,"y":0.017,"g":0.38},{"x":0.003,"y":0.012,"g":0.42},{"x":0.003,"y":0.019,"g":0.4},{"x":0.004,"y":0.016,"g":0.42},{"x":0.005,"y":0.021,"g":0.4},{"x":0.005,"y":0.018,"g":0.43},{"x":0.006,"y":0.025,"g":0.42},{"x":0.006,"y":0.021,"g":0.42},{"x":0.007,"y":0.028,"g":0.4},{"x":0.0073,"y":0.0333,"g":0.42},{"x":0.0074,"y":0.0346,"g":0.4},{"x":0.008,"y":0.023,"g":0.43},{"x":0.009,"y":0.026,"g":0.44},{"x":0.009,"y":0.03,"g":0.42},{"x":0.0108,"y":0.0394,"g":0.44},{"x":0.011,"y":0.029,"g":0.44},{"x":0.012,"y":0.032,"g":0.4},{"x":0.013,"y":0.03,"g":0.45},{"x":0.014,"y":0.034,"g":0.42},{"x":0.015,"y":0.031,"g":0.46},{"x":0.016,"y":0.036,"g":0.42},{"x":0.017,"y":0.0436,"g":0.44},{"x":0.018,"y":0.038,"g":0.44},{"x":0.019,"y":0.041,"g":0.42},{"x":0.02,"y":0.036,"g":0.46},{"x":0.021,"y":0.043,"g":0.44},{"x":0.022,"y":0.04,"g":0.46},{"x":0.0234,"y":0.0512,"g":0.46},{"x":0.024,"y":0.044,"g":0.44},{"x":0.025,"y":0.041,"g":0.48},{"x":0.026,"y":0.046,"g":0.46},{"x":0.027,"y":0.049,"g":0.44},{"x":0.028,"y":0.043,"g":0.48},{"x":0.029,"y":0.047,"g":0.46},{"x":0.03,"y":0.053,"g":0.46},{"x":0.031,"y":0.045,"g":0.48},{"x":0.032,"y":0.05,"g":0.46},{"x":0.033,"y":0.047,"g":0.5},{"x":0.0336,"y":0.0593,"g":0.46},{"x":0.034,"y":0.053,"g":0.46},{"x":0.035,"y":0.045,"g":0.5},{"x":0.036,"y":0.056,"g":0.48},{"x":0.037,"y":0.049,"g":0.5},{"x":0.038,"y":0.055,"g":0.46},{"x":0.039,"y":0.046,"g":0.52},{"x":0.04,"y":0.052,"g":0.5},{"x":0.0408,"y":0.0635,"g":0.48},{"x":0.041,"y":0.048,"g":0.52},{"x":0.042,"y":0.054,"g":0.48},{"x":0.043,"y":0.043,"g":0.52},{"x":0.044,"y":0.05,"g":0.5},{"x":0.045,"y":0.046,"g":0.53},{"x":0.045,"y":0.056,"g":0.48},{"x":0.046,"y":0.04,"g":0.52},{"x":0.046,"y":0.052,"g":0.35},{"x":0.0475,"y":0.0684,"g":0.56},{"x":0.047,"y":0.048,"g":0.52},{"x":0.047,"y":0.035,"g":0.52},{"x":0.048,"y":0.044,"g":0.55},{"x":0.048,"y":0.058,"g":0.5},{"x":0.049,"y":0.052,"g":0.5},{"x":0.049,"y":0.038,"g":0.53},{"x":0.05,"y":0.047,"g":0.54},{"x":0.05,"y":0.062,"g":0.52},{"x":0.0501,"y":0.0221,"g":0.54},{"x":0.051,"y":0.041,"g":0.54},{"x":0.051,"y":0.055,"g":0.52},{"x":0.052,"y":0.032,"g":0.55},{"x":0.052,"y":0.049,"g":0.56},{"x":0.053,"y":0.044,"g":0.54},{"x":0.053,"y":0.06,"g":0.42},{"x":0.054,"y":0.053,"g":0.57},{"x":0.054,"y":0.037,"g":0.55},{"x":0.055,"y":0.047,"g":0.58},{"x":0.0551,"y":0.0725,"g":0.5},{"x":0.056,"y":0.057,"g":0.56},{"x":0.056,"y":0.042,"g":0.54},{"x":0.057,"y":0.052,"g":0.6},{"x":0.0576,"y":0.0235,"g":0.56},{"x":0.0576,"y":0.0373,"g":0.56},{"x":0.058,"y":0.061,"g":0.4},{"x":0.059,"y":0.048,"g":0.6},{"x":0.06,"y":0.055,"g":0.48},{"x":0.06,"y":0.042,"g":0.56},{"x":0.061,"y":0.061,"g":0.3},{"x":0.0614,"y":0.0356,"g":0.55},{"x":0.062,"y":0.05,"g":0.56},{"x":0.063,"y":0.058,"g":0.35},{"x":0.0643,"y":0.0683,"g":0.42},{"x":0.0643,"y":0.0428,"g":0.48},{"x":0.065,"y":0.0411,"g":0.56},{"x":0.0645,"y":0.0625,"g":0.42},{"x":0.0657,"y":0.0438,"g":0.4},{"x":0.0657,"y":0.0301,"g":0.56},{"x":0.0666,"y":0.0502,"g":0.55},{"x":0.0684,"y":0.0722,"g":0.42},{"x":0.0693,"y":0.0699,"g":0.42},{"x":0.0693,"y":0.0498,"g":0.58},{"x":0.0696,"y":0.0478,"g":0.55},{"x":0.07,"y":0.0717,"g":0.38},{"x":0.07,"y":0.0685,"g":0.4},{"x":0.0685,"y":0.063,"g":0.4},{"x":0.0704,"y":0.0706,"g":0.4},{"x":0.0714,"y":0.0692,"g":0.36},{"x":0.072,"y":0.0673,"g":0.42},{"x":0.0722,"y":0.0614,"g":0.35},{"x":0.0741,"y":0.0582,"g":0.42},{"x":0.0743,"y":0.0533,"g":0.35},{"x":0.0745,"y":0.0502,"g":0.55},{"x":0.0075,"y":0.001,"g":0.42},{"x":0.01,"y":0.001,"g":0.42},{"x":0.012,"y":0.002,"g":0.42},{"x":0.014,"y":0.003,"g":0.44},{"x":0.016,"y":0.0035,"g":0.44},{"x":0.0176,"y":0.0041,"g":0.42},{"x":0.018,"y":0.006,"g":0.46},{"x":0.02,"y":0.005,"g":0.44},{"x":0.0226,"y":0.0043,"g":0.42},{"x":0.023,"y":0.008,"g":0.46},{"x":0.025,"y":0.007,"g":0.44},{"x":0.027,"y":0.01,"g":0.46},{"x":0.029,"y":0.01,"g":0.46},{"x":0.031,"y":0.012,"g":0.47},{"x":0.032,"y":0.01,"g":0.42},{"x":0.0341,"y":0.0087,"g":0.46},{"x":0.034,"y":0.015,"g":0.48},{"x":0.036,"y":0.017,"g":0.48},{"x":0.0385,"y":0.0117,"g":0.46},{"x":0.038,"y":0.019,"g":0.5},{"x":0.04,"y":0.02,"g":0.5},{"x":0.041,"y":0.017,"g":0.5},{"x":0.0433,"y":0.0163,"g":0.52},{"x":0.042,"y":0.024,"g":0.5},{"x":0.044,"y":0.027,"g":0.52},{"x":0.045,"y":0.024,"g":0.52},{"x":0.046,"y":0.03,"g":0.54},{"x":0.048,"y":0.028,"g":0.54},{"x":0.05,"y":0.033,"g":0.54},{"x":0.025,"y":0.025,"g":0.2},{"x":0.016,"y":0.017,"g":0.22},{"x":0.04,"y":0.036,"g":0.22},{"x":0.045,"y":0.036,"g":0.3},{"x":0.03,"y":0.033,"g":0.56},{"x":0.037,"y":0.033,"g":0.57},{"x":0.02,"y":0.018,"g":0.55},{"x":0.01,"y":0.011,"g":0.25},{"x":0.005,"y":0.005,"g":0.3},{"x":0.026,"y":0.029,"g":0.3},{"x":0.0485,"y":0.05,"g":0.52},{"x":0.0495,"y":0.042,"g":0.54},{"x":0.05,"y":0.036,"g":0.53},{"x":0.0515,"y":0.046,"g":0.55},{"x":0.0525,"y":0.052,"g":0.54},{"x":0.0535,"y":0.04,"g":0.55},{"x":0.0545,"y":0.05,"g":0.58},{"x":0.055,"y":0.034,"g":0.55},{"x":0.0565,"y":0.045,"g":0.56},{"x":0.0445,"y":0.058,"g":0.48},{"x":0.0465,"y":0.055,"g":0.5},{"x":0.0425,"y":0.051,"g":0.5},{"x":0.0395,"y":0.05,"g":0.48},{"x":0.037,"y":0.052,"g":0.47},{"x":0.0435,"y":0.057,"g":0.46},{"x":0.0475,"y":0.031,"g":0.54},{"x":0.0495,"y":0.029,"g":0.54},{"x":0.0505,"y":0.039,"g":0.55}],
"core4":[{"x":0.05,"y":0.05,"g":0.38},{"x":0.055,"y":0.059,"g":0.39},{"x":0.055,"y":0.068,"g":0.39},{"x":0.063,"y":0.056,"g":0.41},{"x":0.063,"y":0.065,"g":0.41},{"x":0.063,"y":0.074,"g":0.4},{"x":0.063,"y":0.083,"g":0.4},{"x":0.072,"y":0.06,"g":0.42},{"x":0.072,"y":0.069,"g":0.43},{"x":0.072,"y":0.078,"g":0.43},{"x":0.072,"y":0.087,"g":0.42},{"x":0.072,"y":0.096,"g":0.41},{"x":0.081,"y":0.066,"g":0.44},{"x":0.081,"y":0.075,"g":0.44},{"x":0.081,"y":0.084,"g":0.44},{"x":0.081,"y":0.093,"g":0.44},{"x":0.081,"y":0.102,"g":0.43},{"x":0.081,"y":0.108,"g":0.43},{"x":0.09,"y":0.07,"g":0.46},{"x":0.09,"y":0.079,"g":0.46},{"x":0.09,"y":0.088,"g":0.46},{"x":0.09,"y":0.097,"g":0.45},{"x":0.09,"y":0.106,"g":0.45},{"x":0.09,"y":0.112,"g":0.44},{"x":0.099,"y":0.075,"g":0.48},{"x":0.099,"y":0.084,"g":0.48},{"x":0.099,"y":0.093,"g":0.47},{"x":0.099,"y":0.102,"g":0.46},{"x":0.099,"y":0.111,"g":0.46},{"x":0.108,"y":0.08,"g":0.49},{"x":0.108,"y":0.089,"g":0.49},{"x":0.108,"y":0.098,"g":0.48},{"x":0.108,"y":0.107,"g":0.48},{"x":0.108,"y":0.112,"g":0.47},{"x":0.117,"y":0.086,"g":0.5},{"x":0.117,"y":0.095,"g":0.5},{"x":0.117,"y":0.104,"g":0.49},{"x":0.117,"y":0.11,"g":0.48},{"x":0.124,"y":0.095,"g":0.5},{"x":0.124,"y":0.103,"g":0.5}],
"mid4":[{"x":0.047,"y":0.045,"g":0.37},{"x":0.047,"y":0.052,"g":0.37},{"x":0.047,"y":0.06,"g":0.37},{"x":0.049,"y":0.066,"g":0.37},{"x":0.05,"y":0.044,"g":0.38},{"x":0.052,"y":0.069,"g":0.38},{"x":0.054,"y":0.045,"g":0.39},{"x":0.055,"y":0.075,"g":0.38},{"x":0.058,"y":0.081,"g":0.39},{"x":0.058,"y":0.048,"g":0.4},{"x":0.061,"y":0.086,"g":0.39},{"x":0.062,"y":0.05,"g":0.41},{"x":0.064,"y":0.092,"g":0.4},{"x":0.066,"y":0.052,"g":0.42},{"x":0.067,"y":0.096,"g":0.4},{"x":0.07,"y":0.1,"g":0.41},{"x":0.07,"y":0.054,"g":0.43},{"x":0.073,"y":0.103,"g":0.41},{"x":0.074,"y":0.057,"g":0.44},{"x":0.076,"y":0.107,"g":0.42},{"x":0.078,"y":0.06,"g":0.44},{"x":0.079,"y":0.111,"g":0.42},{"x":0.082,"y":0.113,"g":0.43},{"x":0.082,"y":0.062,"g":0.45},{"x":0.085,"y":0.116,"g":0.44},{"x":0.086,"y":0.064,"g":0.46},{"x":0.088,"y":0.117,"g":0.44},{"x":0.09,"y":0.067,"g":0.47},{"x":0.091,"y":0.118,"g":0.45},{"x":0.094,"y":0.117,"g":0.45},{"x":0.094,"y":0.068,"g":0.48},{"x":0.097,"y":0.118,"g":0.46},{"x":0.098,"y":0.072,"g":0.48},{"x":0.1,"y":0.117,"g":0.46},{"x":0.102,"y":0.074,"g":0.49},{"x":0.103,"y":0.117,"g":0.47},{"x":0.106,"y":0.117,"g":0.47},{"x":0.106,"y":0.076,"g":0.5},{"x":0.109,"y":0.116,"g":0.48},{"x":0.11,"y":0.078,"g":0.5},{"x":0.112,"y":0.115,"g":0.48},{"x":0.114,"y":0.081,"g":0.5},{"x":0.115,"y":0.114,"g":0.48},{"x":0.118,"y":0.113,"g":0.49},{"x":0.118,"y":0.084,"g":0.5},{"x":0.121,"y":0.112,"g":0.49},{"x":0.122,"y":0.088,"g":0.5},{"x":0.124,"y":0.11,"g":0.49},{"x":0.126,"y":0.092,"g":0.5},{"x":0.127,"y":0.107,"g":0.49},{"x":0.129,"y":0.102,"g":0.49},{"x":0.13,"y":0.098,"g":0.49}],
"fine4":[{"x":0,"y":0,"g":0.02},{"x":0.0005,"y":0.0005,"g":0.04},{"x":0.001,"y":0.002,"g":0.5},{"x":0.0005,"y":0.004,"g":0.48},{"x":0.001,"y":0.005,"g":0.46},{"x":0.002,"y":0.001,"g":0.48},{"x":0.002,"y":0.003,"g":0.55},{"x":0.003,"y":0.002,"g":0.5},{"x":0.003,"y":0.005,"g":0.47},{"x":0.004,"y":0.002,"g":0.48},{"x":0.004,"y":0.004,"g":0.48},{"x":0.005,"y":0.007,"g":0.46},{"x":0.005,"y":0.003,"g":0.48},{"x":0.006,"y":0.006,"g":0.45},{"x":0.006,"y":0.009,"g":0.48},{"x":0.007,"y":0.005,"g":0.48},{"x":0.007,"y":0.008,"g":0.45},{"x":0.008,"y":0.01,"g":0.46},{"x":0.008,"y":0.007,"g":0.3},{"x":0.009,"y":0.012,"g":0.45},{"x":0.009,"y":0.006,"g":0.46},{"x":0.01,"y":0.01,"g":0.48},{"x":0.01,"y":0.004,"g":0.42},{"x":0.011,"y":0.012,"g":0.42},{"x":0.012,"y":0.008,"g":0.35},{"x":0.013,"y":0.012,"g":0.45},{"x":0.014,"y":0.007,"g":0.42},{"x":0.019,"y":0.0012,"g":0.38},{"x":0.022,"y":0.008,"g":0.42},{"x":0.0196,"y":0.0065,"g":0.28},{"x":0.0165,"y":0.0065,"g":0.35},{"x":0.017,"y":0.0096,"g":0.42},{"x":0.018,"y":0.0105,"g":0.4},{"x":0.0217,"y":0.0153,"g":0.4},{"x":0.0188,"y":0.0156,"g":0.25},{"x":0.0171,"y":0.0156,"g":0.25},{"x":0.018,"y":0.0178,"g":0.28},{"x":0.0144,"y":0.0175,"g":0.35},{"x":0.0118,"y":0.0156,"g":0.28},{"x":0.009,"y":0.016,"g":0.28},{"x":0.0109,"y":0.0142,"g":0.3},{"x":0.0137,"y":0.0133,"g":0.35},{"x":0.0062,"y":0.0135,"g":0.42},{"x":0.0053,"y":0.0124,"g":0.3},{"x":0.0107,"y":0.0218,"g":0.25},{"x":0.0129,"y":0.0217,"g":0.3},{"x":0.015,"y":0.0228,"g":0.35},{"x":0.0174,"y":0.023,"g":0.28},{"x":0.0195,"y":0.0239,"g":0.3},{"x":0.0197,"y":0.0217,"g":0.2},{"x":0.0167,"y":0.02,"g":0.3},{"x":0.0202,"y":0.0203,"g":0.25},{"x":0.0227,"y":0.0226,"g":0.22},{"x":0.0255,"y":0.0212,"g":0.28},{"x":0.0271,"y":0.0196,"g":0.28},{"x":0.0248,"y":0.0178,"g":0.25},{"x":0.0236,"y":0.0181,"g":0.22},{"x":0.0293,"y":0.017,"g":0.3},{"x":0.035,"y":0.02,"g":0.28},{"x":0.0332,"y":0.0203,"g":0.3},{"x":0.0288,"y":0.0238,"g":0.22},{"x":0.0325,"y":0.0218,"g":0.4},{"x":0.0299,"y":0.0221,"g":0.3},{"x":0.0271,"y":0.0247,"g":0.28},{"x":0.0313,"y":0.0249,"g":0.3},{"x":0.035,"y":0.0263,"g":0.28},{"x":0.0327,"y":0.0282,"g":0.25},{"x":0.0299,"y":0.0283,"g":0.2},{"x":0.0267,"y":0.028,"g":0.22},{"x":0.0239,"y":0.0274,"g":0.22},{"x":0.0243,"y":0.0293,"g":0.32},{"x":0.0206,"y":0.0317,"g":0.28},{"x":0.0231,"y":0.0382,"g":0.28},{"x":0.0223,"y":0.0427,"g":0.25},{"x":0.0297,"y":0.0455,"g":0.3},{"x":0.0285,"y":0.0384,"g":0.55},{"x":0.0309,"y":0.0368,"g":0.2},{"x":0.029,"y":0.0337,"g":0.4},{"x":0.0332,"y":0.0337,"g":0.32},{"x":0.0304,"y":0.031,"g":0.28},{"x":0.035,"y":0.0328,"g":0.5},{"x":0.0355,"y":0.037,"g":0.28},{"x":0.0341,"y":0.0398,"g":0.25},{"x":0.036,"y":0.0444,"g":0.35},{"x":0.0378,"y":0.0347,"g":0.42},{"x":0.0378,"y":0.0305,"g":0.3},{"x":0.0397,"y":0.0277,"g":0.5},{"x":0.0388,"y":0.024,"g":0.25},{"x":0.0425,"y":0.023,"g":0.2},{"x":0.0392,"y":0.0212,"g":0.2},{"x":0.0432,"y":0.0201,"g":0.5},{"x":0.0477,"y":0.0205,"g":0.52},{"x":0.0479,"y":0.0243,"g":0.45},{"x":0.044,"y":0.0265,"g":0.32},{"x":0.0471,"y":0.0293,"g":0.35},{"x":0.0496,"y":0.0282,"g":0.45},{"x":0.0518,"y":0.0294,"g":0.48},{"x":0.0448,"y":0.0319,"g":0.42},{"x":0.0415,"y":0.0328,"g":0.45},{"x":0.0429,"y":0.0291,"g":0.3},{"x":0.0499,"y":0.0328,"g":0.25},{"x":0.0564,"y":0.0311,"g":0.5},{"x":0.0546,"y":0.0342,"g":0.3},{"x":0.0504,"y":0.0365,"g":0.45},{"x":0.0448,"y":0.0365,"g":0.35},{"x":0.0401,"y":0.0365,"g":0.45},{"x":0.0383,"y":0.0398,"g":0.3},{"x":0.0411,"y":0.0402,"g":0.32},{"x":0.0615,"y":0.0356,"g":0.36},{"x":0.0657,"y":0.0384,"g":0.5},{"x":0.0704,"y":0.0356,"g":0.45},{"x":0.0743,"y":0.0373,"g":0.5},{"x":0.0809,"y":0.0396,"g":0.4},{"x":0.0817,"y":0.0384,"g":0.45},{"x":0.0917,"y":0.0432,"g":0.36},{"x":0.046,"y":0.04,"g":0.38},{"x":0.047,"y":0.046,"g":0.4},{"x":0.048,"y":0.053,"g":0.36},{"x":0.045,"y":0.05,"g":0.34},{"x":0.047,"y":0.06,"g":0.35},{"x":0.05,"y":0.065,"g":0.36},{"x":0.048,"y":0.069,"g":0.32},{"x":0.05,"y":0.044,"g":0.4},{"x":0.052,"y":0.072,"g":0.36},{"x":0.054,"y":0.042,"g":0.42},{"x":0.054,"y":0.078,"g":0.36},{"x":0.057,"y":0.085,"g":0.34},{"x":0.057,"y":0.044,"g":0.42},{"x":0.06,"y":0.088,"g":0.38},{"x":0.06,"y":0.046,"g":0.42},{"x":0.063,"y":0.093,"g":0.38},{"x":0.064,"y":0.1,"g":0.36},{"x":0.064,"y":0.048,"g":0.42},{"x":0.068,"y":0.1,"g":0.38},{"x":0.068,"y":0.05,"g":0.44},{"x":0.0698,"y":0.1167,"g":0.36},{"x":0.072,"y":0.105,"g":0.38},{"x":0.072,"y":0.053,"g":0.44},{"x":0.075,"y":0.11,"g":0.4},{"x":0.076,"y":0.056,"g":0.46},{"x":0.078,"y":0.116,"g":0.38},{"x":0.08,"y":0.058,"g":0.46},{"x":0.082,"y":0.118,"g":0.4},{"x":0.084,"y":0.06,"g":0.46},{"x":0.085,"y":0.12,"g":0.42},{"x":0.088,"y":0.062,"g":0.47},{"x":0.09,"y":0.122,"g":0.42},{"x":0.092,"y":0.064,"g":0.48},{"x":0.094,"y":0.12,"g":0.45},{"x":0.096,"y":0.067,"g":0.48},{"x":0.098,"y":0.122,"g":0.44},{"x":0.098,"y":0.1395,"g":0.45},{"x":0.0969,"y":0.1359,"g":0.38},{"x":0.1,"y":0.07,"g":0.5},{"x":0.102,"y":0.121,"g":0.48},{"x":0.104,"y":0.072,"g":0.5},{"x":0.106,"y":0.12,"g":0.48},{"x":0.108,"y":0.073,"g":0.5},{"x":0.11,"y":0.119,"g":0.5},{"x":0.1114,"y":0.1431,"g":0.45},{"x":0.112,"y":0.075,"g":0.5},{"x":0.114,"y":0.118,"g":0.5},{"x":0.116,"y":0.078,"g":0.52},{"x":0.1168,"y":0.154,"g":0.45},{"x":0.118,"y":0.116,"g":0.5},{"x":0.12,"y":0.082,"g":0.52},{"x":0.1212,"y":0.1431,"g":0.42},{"x":0.1222,"y":0.0507,"g":0.42},{"x":0.123,"y":0.085,"g":0.52},{"x":0.124,"y":0.114,"g":0.5},{"x":0.126,"y":0.09,"g":0.52},{"x":0.127,"y":0.11,"g":0.5},{"x":0.1288,"y":0.154,"g":0.45},{"x":0.129,"y":0.095,"g":0.52},{"x":0.13,"y":0.104,"g":0.5},{"x":0.13,"y":0.125,"g":0.38},{"x":0.132,"y":0.118,"g":0.4},{"x":0.132,"y":0.092,"g":0.48},{"x":0.134,"y":0.11,"g":0.46},{"x":0.135,"y":0.132,"g":0.36},{"x":0.136,"y":0.1,"g":0.44},{"x":0.137,"y":0.122,"g":0.4},{"x":0.1378,"y":0.1395,"g":0.42},{"x":0.139,"y":0.113,"g":0.44},{"x":0.1403,"y":0.1304,"g":0.3},{"x":0.141,"y":0.12,"g":0.48},{"x":0.1421,"y":0.1069,"g":0.52},{"x":0.144,"y":0.12,"g":0.45},{"x":0.146,"y":0.1178,"g":0.48},{"x":0.1458,"y":0.1775,"g":0.42},{"x":0.1486,"y":0.1522,"g":0.44},{"x":0.1501,"y":0.1612,"g":0.44},{"x":0.1501,"y":0.0942,"g":0.56},{"x":0.1523,"y":0.1087,"g":0.5},{"x":0.153,"y":0.0942,"g":0.52},{"x":0.1537,"y":0.1685,"g":0.38},{"x":0.154,"y":0.1504,"g":0.5},{"x":0.1548,"y":0.1286,"g":0.5},{"x":0.1555,"y":0.191,"g":0.42},{"x":0.1584,"y":0.1739,"g":0.42},{"x":0.1584,"y":0.154,"g":0.48},{"x":0.1584,"y":0.1359,"g":0.52},{"x":0.162,"y":0.1667,"g":0.36},{"x":0.162,"y":0.1395,"g":0.48},{"x":0.1631,"y":0.1514,"g":0.22},{"x":0.1638,"y":0.1728,"g":0.48},{"x":0.1656,"y":0.1413,"g":0.46},{"x":0.1667,"y":0.162,"g":0.42},{"x":0.1675,"y":0.1486,"g":0.45},{"x":0.1682,"y":0.1721,"g":0.42},{"x":0.1682,"y":0.125,"g":0.52},{"x":0.1711,"y":0.1558,"g":0.42},{"x":0.1718,"y":0.1467,"g":0.46},{"x":0.1729,"y":0.1594,"g":0.42},{"x":0.1747,"y":0.1413,"g":0.45},{"x":0.1754,"y":0.1746,"g":0.42},{"x":0.1754,"y":0.1638,"g":0.42},{"x":0.1765,"y":0.1457,"g":0.46},{"x":0.1772,"y":0.1877,"g":0.44},{"x":0.1783,"y":0.1721,"g":0.42},{"x":0.1783,"y":0.1685,"g":0.44},{"x":0.1801,"y":0.183,"g":0.42},{"x":0.1801,"y":0.1504,"g":0.45},{"x":0.1819,"y":0.1775,"g":0.4},{"x":0.1837,"y":0.1913,"g":0.42},{"x":0.1837,"y":0.1866,"g":0.42},{"x":0.1837,"y":0.1449,"g":0.42},{"x":0.1837,"y":0.1322,"g":0.46},{"x":0.1855,"y":0.183,"g":0.38},{"x":0.1873,"y":0.1739,"g":0.44},{"x":0.1892,"y":0.195,"g":0.4},{"x":0.1892,"y":0.1891,"g":0.42},{"x":0.1892,"y":0.1685,"g":0.42},{"x":0.1899,"y":0.1812,"g":0.42},{"x":0.1928,"y":0.1757,"g":0.42},{"x":0.1928,"y":0.1315,"g":0.36},{"x":0.1935,"y":0.2,"g":0.42},{"x":0.1939,"y":0.1938,"g":0.45},{"x":0.1946,"y":0.1848,"g":0.42},{"x":0.1982,"y":0.1957,"g":0.42},{"x":0.1989,"y":0.1638,"g":0.42},{"x":0.1993,"y":0.1783,"g":0.45},{"x":0.1993,"y":0.1486,"g":0.44},{"x":0.07,"y":0.075,"g":0.22},{"x":0.085,"y":0.07,"g":0.25},{"x":0.058,"y":0.06,"g":0.25},{"x":0.1,"y":0.09,"g":0.57},{"x":0.115,"y":0.098,"g":0.58},{"x":0.092,"y":0.075,"g":0.56},{"x":0.078,"y":0.09,"g":0.55},{"x":0.12,"y":0.108,"g":0.57}]
},
"concat":[
{"title":"EA1102","width":788,"height":788,
"encoding":{
"x":{"field":"x","type":"quantitative","scale":{"domain":[-0.0098,0.2101],"nice":false,"zero":false},"axis":{"title":null,"values":[0,0.025,0.05,0.075,0.1,0.125,0.15,0.175,0.2],"labelExpr":"round(datum.value*1000)%50==0?format(datum.value,'.2f'):''","gridWidth":{"condition":{"test":"round(datum.value*1000)%50==0","value":2.6},"value":1.3},"tickColor":{"condition":{"test":"round(datum.value*1000)%50==0","value":"#333333"},"value":"transparent"}}},
"y":{"field":"y","type":"quantitative","scale":{"domain":[-0.0101,0.2098],"nice":false,"zero":false},"axis":{"title":"Illumina X-Ten","titleX":-113,"titleY":831,"titleAlign":"center","titleBaseline":"middle","titleAngle":-90,"values":[0,0.025,0.05,0.075,0.1,0.125,0.15,0.175,0.2],"labelExpr":"round(datum.value*1000)%50==0?format(datum.value,'.2f'):''","gridWidth":{"condition":{"test":"round(datum.value*1000)%50==0","value":2.6},"value":1.3},"tickColor":{"condition":{"test":"round(datum.value*1000)%50==0","value":"#333333"},"value":"transparent"}}},
"color":{"field":"g","type":"quantitative","scale":{"domain":[0,0.637],"range":["#1C344C","#64B2F0"],"interpolate":"lab"},"legend":{"title":"GC rate","orient":"none","legendX":1759,"legendY":627,"type":"gradient","values":[0,0.2,0.4,0.6],"format":".1f","gradientLength":346,"gradientThickness":70,"gradientStrokeWidth":0,"titleFontSize":33,"titleFontWeight":"normal","titleColor":"black","titleAnchor":"middle","titlePadding":31,"labelFontSize":28,"labelColor":"black","labelOffset":26,"encode":{"gradient":{"update":{"opacity":{"value":1}}},"labels":{"update":{"baseline":{"value":"middle"},"dy":{"value":3}}}}}}
},
"layer":[
{"data":{"name":"core1"},"mark":{"type":"circle","size":3000,"opacity":1}},
{"data":{"name":"mid1"},"mark":{"type":"circle","size":450,"opacity":1}},
{"data":{"name":"fine1"},"mark":{"type":"circle","size":100,"opacity":0.6}}
]},
{"title":"EA1104","width":788,"height":788,
"encoding":{
"x":{"field":"x","type":"quantitative","scale":{"domain":[-0.00704,0.1576],"nice":false,"zero":false},"axis":{"title":null,"values":[0,0.025,0.05,0.075,0.1,0.125,0.15],"labelExpr":"round(datum.value*1000)%50==0?format(datum.value,'.2f'):''","gridWidth":{"condition":{"test":"round(datum.value*1000)%50==0","value":2.6},"value":1.3},"tickColor":{"condition":{"test":"round(datum.value*1000)%50==0","value":"#333333"},"value":"transparent"}}},
"y":{"field":"y","type":"quantitative","scale":{"domain":[-0.0076,0.1573],"nice":false,"zero":false},"axis":{"title":null,"values":[0,0.025,0.05,0.075,0.1,0.125,0.15],"labelExpr":"round(datum.value*1000)%50==0?format(datum.value,'.2f'):''","gridWidth":{"condition":{"test":"round(datum.value*1000)%50==0","value":2.6},"value":1.3},"tickColor":{"condition":{"test":"round(datum.value*1000)%50==0","value":"#333333"},"value":"transparent"}}},
"color":{"field":"g","type":"quantitative","scale":{"domain":[0,0.637],"range":["#1C344C","#64B2F0"],"interpolate":"lab"}}
},
"layer":[
{"data":{"name":"core2"},"mark":{"type":"circle","size":3000,"opacity":1}},
{"data":{"name":"mid2"},"mark":{"type":"circle","size":450,"opacity":1}},
{"data":{"name":"fine2"},"mark":{"type":"circle","size":100,"opacity":0.6}}
]},
{"title":"EA1107","width":788,"height":788,
"encoding":{
"x":{"field":"x","type":"quantitative","scale":{"domain":[-0.00366,0.0787],"nice":false,"zero":false},"axis":{"title":"MGISEQ-2000","titleX":827,"titleY":88,"titleAlign":"center","titleBaseline":"middle","values":[0,0.01,0.02,0.03,0.04,0.05,0.06,0.07],"labelExpr":"round(datum.value*1000)%20==0?format(datum.value,'.2f'):''","gridWidth":{"condition":{"test":"round(datum.value*1000)%20==0","value":2.6},"value":1.3},"tickColor":{"condition":{"test":"round(datum.value*1000)%20==0","value":"#333333"},"value":"transparent"}}},
"y":{"field":"y","type":"quantitative","scale":{"domain":[-0.0038,0.0787],"nice":false,"zero":false},"axis":{"title":null,"values":[0,0.01,0.02,0.03,0.04,0.05,0.06,0.07],"labelExpr":"round(datum.value*1000)%20==0?format(datum.value,'.2f'):''","gridWidth":{"condition":{"test":"round(datum.value*1000)%20==0","value":2.6},"value":1.3},"tickColor":{"condition":{"test":"round(datum.value*1000)%20==0","value":"#333333"},"value":"transparent"}}},
"color":{"field":"g","type":"quantitative","scale":{"domain":[0,0.637],"range":["#1C344C","#64B2F0"],"interpolate":"lab"}}
},
"layer":[
{"data":{"name":"core3"},"mark":{"type":"circle","size":4500,"opacity":1}},
{"data":{"name":"mid3"},"mark":{"type":"circle","size":800,"opacity":1}},
{"data":{"name":"fine3"},"mark":{"type":"circle","size":100,"opacity":0.6}}
]},
{"title":"F90914","width":788,"height":788,
"encoding":{
"x":{"field":"x","type":"quantitative","scale":{"domain":[-0.0098,0.2101],"nice":false,"zero":false},"axis":{"title":null,"values":[0,0.025,0.05,0.075,0.1,0.125,0.15,0.175,0.2],"labelExpr":"round(datum.value*1000)%50==0?format(datum.value,'.2f'):''","gridWidth":{"condition":{"test":"round(datum.value*1000)%50==0","value":2.6},"value":1.3},"tickColor":{"condition":{"test":"round(datum.value*1000)%50==0","value":"#333333"},"value":"transparent"}}},
"y":{"field":"y","type":"quantitative","scale":{"domain":[-0.0101,0.2101],"nice":false,"zero":false},"axis":{"title":null,"values":[0,0.025,0.05,0.075,0.1,0.125,0.15,0.175,0.2],"labelExpr":"round(datum.value*1000)%50==0?format(datum.value,'.2f'):''","gridWidth":{"condition":{"test":"round(datum.value*1000)%50==0","value":2.6},"value":1.3},"tickColor":{"condition":{"test":"round(datum.value*1000)%50==0","value":"#333333"},"value":"transparent"}}},
"color":{"field":"g","type":"quantitative","scale":{"domain":[0,0.637],"range":["#1C344C","#64B2F0"],"interpolate":"lab"}}
},
"layer":[
{"data":{"name":"core4"},"mark":{"type":"circle","size":2500,"opacity":1}},
{"data":{"name":"mid4"},"mark":{"type":"circle","size":450,"opacity":1}},
{"data":{"name":"fine4"},"mark":{"type":"circle","size":100,"opacity":0.6}}
]}
]
}
